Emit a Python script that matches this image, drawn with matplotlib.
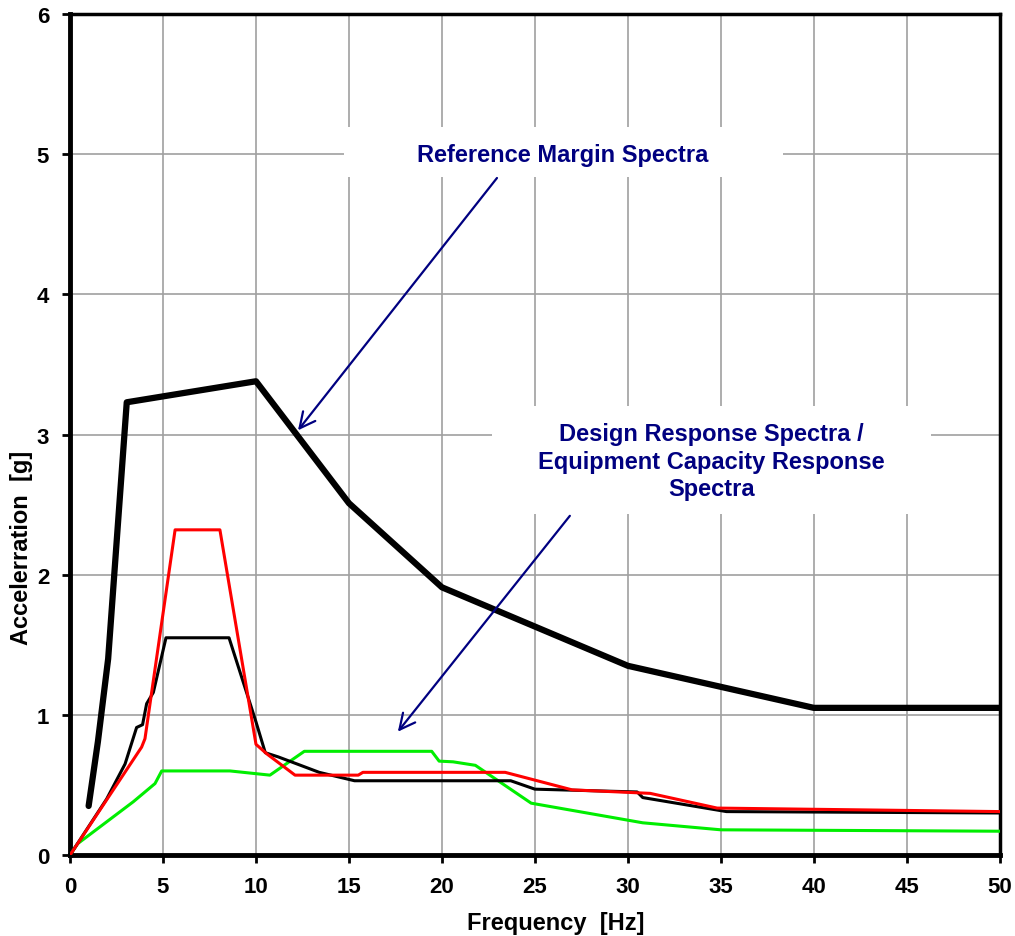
import numpy as np
import matplotlib.pyplot as plt
from matplotlib.patches import Rectangle

# reference margin spectra (thick black)
rms_f = [1.0, 1.5, 2.05, 3.05, 10.0, 15.0, 20.0, 30.0, 40.0, 50.0]
rms_a = [0.35, 0.81, 1.40, 3.23, 3.38, 2.51, 1.91, 1.35, 1.05, 1.05]

# thin black spectrum
blk_f = [0.0, 1.97, 2.96, 3.58, 3.9, 4.12, 4.48, 5.16, 8.55, 10.0, 10.5, 11.2,
         13.4, 15.3, 23.7, 25.0, 30.5, 30.8, 35.3, 50.0]
blk_a = [0.0, 0.40, 0.65, 0.91, 0.93, 1.08, 1.16, 1.55, 1.55, 0.95, 0.73, 0.70,
         0.59, 0.53, 0.53, 0.47, 0.45, 0.41, 0.31, 0.30]

# red spectrum
red_f = [0.0, 3.85, 4.03, 5.65, 8.06, 10.0, 10.6, 12.1, 15.5, 15.75, 23.4,
         27.0, 31.2, 34.8, 50.0]
red_a = [0.0, 0.77, 0.83, 2.32, 2.32, 0.79, 0.72, 0.57, 0.57, 0.59, 0.59,
         0.465, 0.44, 0.335, 0.31]

# green spectrum
grn_f = [0.0, 0.4, 3.4, 4.57, 4.93, 8.6, 10.75, 12.6, 19.45, 19.85, 20.6,
         21.8, 24.8, 30.8, 35.0, 50.0]
grn_a = [0.0, 0.08, 0.38, 0.51, 0.60, 0.60, 0.57, 0.74, 0.74, 0.67, 0.665,
         0.64, 0.37, 0.23, 0.18, 0.17]

plt.rcParams['font.family'] = ['Liberation Sans', 'DejaVu Sans']
plt.rcParams['font.weight'] = 'bold'

fig = plt.figure(figsize=(10.15, 9.37), dpi=100)
ax = fig.add_axes([0.069, 0.0864, 0.916, 0.8976])

ax.plot(grn_f, grn_a, color='#00ee00', lw=2.2, zorder=3)
ax.plot(blk_f, blk_a, color='black', lw=2.2, zorder=3)
ax.plot(red_f, red_a, color='#ff0000', lw=2.2, zorder=4)
ax.plot(rms_f, rms_a, color='black', lw=4.5, solid_capstyle='round', zorder=5)

ax.set_xlim(0, 50)
ax.set_ylim(0, 6)
ax.set_xticks(np.arange(0, 51, 5))
ax.set_yticks(np.arange(0, 7, 1))
ax.grid(True, color='#a0a0a0', lw=1.2)
ax.set_axisbelow(True)
ax.tick_params(direction='out', length=6, width=2, labelsize=16, pad=9)
for lab in ax.get_xticklabels() + ax.get_yticklabels():
    lab.set_fontweight('bold')
ax.spines['left'].set_linewidth(3.5)
ax.spines['bottom'].set_linewidth(3.5)
ax.spines['top'].set_linewidth(2.5)
ax.spines['right'].set_linewidth(2.5)

ax.set_xlabel('Frequency  [Hz]', fontsize=17, fontweight='bold')
ax.set_ylabel('Accelerration  [g]', fontsize=17, fontweight='bold')
ax.xaxis.set_label_coords(0.5226, -0.066)
ax.yaxis.set_label_coords(-0.040, 0.367)

navy = '#000080'

# white boxes behind the callouts (hide the grid)
ax.add_patch(Rectangle((14.73, 4.836), 23.6, 0.357, fc='white', ec='none', zorder=2))
ax.add_patch(Rectangle((22.69, 2.43), 23.6, 0.77, fc='white', ec='none', zorder=2))

ax.text(26.5, 5.0, 'Reference Margin Spectra', ha='center', va='center',
        fontsize=17, fontweight='bold', color=navy, zorder=6)
ax.text(34.5, 2.81, 'Design Response Spectra /\nEquipment Capacity Response\nSpectra',
        ha='center', va='center', fontsize=17, fontweight='bold', color=navy,
        linespacing=1.25, zorder=6)

arrow = dict(arrowstyle='->', color=navy, lw=1.6, mutation_scale=28,
             shrinkA=0, shrinkB=0)
ax.annotate('', xy=(12.26, 3.03), xytext=(22.96, 4.83), arrowprops=arrow, zorder=6)
ax.annotate('', xy=(17.63, 0.88), xytext=(26.88, 2.42), arrowprops=arrow, zorder=6)

fig.savefig('out.png', dpi=100)
